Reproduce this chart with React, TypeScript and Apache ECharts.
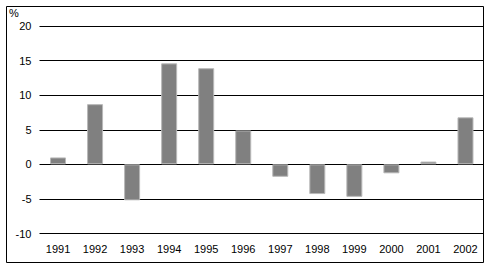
import React, { useEffect, useRef } from "react";
import * as echarts from "echarts";

const categories = ["1991", "1992", "1993", "1994", "1995", "1996", "1997", "1998", "1999", "2000", "2001", "2002"];
const values = [1.0, 8.7, -5.2, 14.6, 13.9, 4.9, -1.8, -4.3, -4.7, -1.3, 0.4, 6.8];
const yMin = -10;
const yMax = 20;
const yInterval = 5;
const unitLabel = "%";

export default function App() {
  const ref = useRef<HTMLDivElement>(null);
  useEffect(() => {
    document.body.style.margin = "0";
    const chart = echarts.init(ref.current!, null, { renderer: "svg" });
    const font = "'Liberation Sans', Arial, sans-serif";
    chart.setOption({
      animation: false,
      backgroundColor: "#ffffff",
      grid: { left: 39.5, top: 26, width: 444.5, height: 207.5, containLabel: false },
      xAxis: {
        type: "category",
        data: categories,
        axisLine: { show: false },
        axisTick: { show: false },
        axisLabel: { color: "#000", fontSize: 11, fontFamily: font, margin: 10 },
        splitLine: { show: false },
      },
      yAxis: {
        type: "value",
        min: yMin,
        max: yMax,
        interval: yInterval,
        axisLine: { show: false },
        axisTick: { show: false },
        axisLabel: { color: "#000", fontSize: 11, fontFamily: font, margin: 8 },
        splitLine: { show: true, lineStyle: { color: "#000", width: 1 } },
      },
      graphic: [
        {
          type: "rect",
          shape: { x: 6.5, y: 6.5, width: 477, height: 256 },
          style: { fill: "none", stroke: "#000", lineWidth: 1 },
          silent: true,
        },
        {
          type: "text",
          left: 9,
          top: 7,
          style: { text: unitLabel, fill: "#000", font: `11px ${font}` },
        },
      ],
      series: [
        {
          type: "bar",
          data: values,
          barWidth: 16,
          itemStyle: { color: "#808080", borderColor: "#b8b8b8", borderWidth: 1 },
        },
      ],
    });
    return () => chart.dispose();
  }, []);
  return <div ref={ref} style={{ width: 490, height: 268 }} />;
}
